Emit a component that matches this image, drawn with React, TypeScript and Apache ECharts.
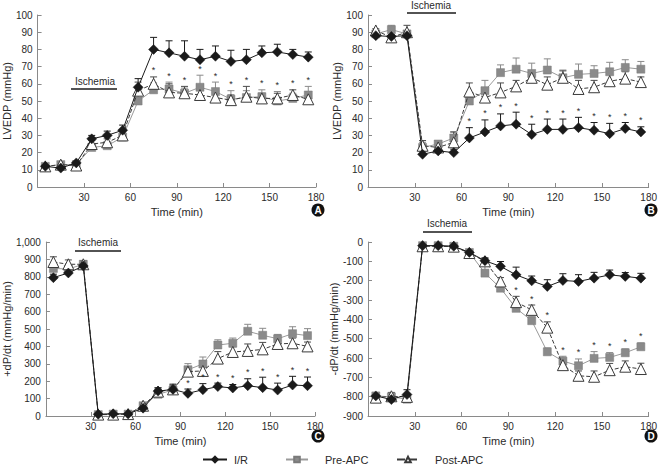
import { useEffect, useRef } from "react";
import * as echarts from "echarts";

const FONT = "'Liberation Sans', Arial, sans-serif";

const times = [5, 15, 25, 35, 45, 55, 65, 75, 85, 95, 105, 115, 125, 135, 145, 155, 165, 175];
const seriesNames = ["I/R", "Pre-APC", "Post-APC"];
const xTicks = [0, 30, 60, 90, 120, 150, 180];

// Panel A: LVEDP
const aIR = [12, 11, 14, 28, 30, 33, 58, 80, 78, 76, 74, 76, 73, 74, 78, 78.5, 77, 75.5];
const aIRErr = [1, 1, 1, 2, 2.5, 3, 5, 7, 7, 9, 6, 6, 6.5, 6, 4, 4.5, 3, 3];
const aPre = [12, 13, 13, 23, 24, 29, 50, 56.5, 57, 54.5, 58, 55.5, 51, 52, 52.5, 50, 51.5, 53.5];
const aPreErr = [1, 1, 1, 2, 2, 2, 5, 4, 4, 3, 7, 5.5, 5, 4, 4, 5.5, 3, 5];
const aPost = [12, 13, 12.5, 25, 26, 30, 56, 60, 55, 54.5, 53.5, 52, 50.5, 52.5, 51.5, 51.5, 53.5, 51];
const aPostErr = [1, 1, 1, 2, 2, 2, 5, 4, 5, 4, 3, 3, 3, 6, 3, 3, 3, 3];
const aSig = [0, 0, 0, 0, 0, 0, 0, 1, 1, 1, 1, 1, 1, 1, 1, 1, 1, 1];

// Panel B: LVEDP
const bIR = [88, 87.5, 88, 19, 21, 20, 28.5, 32, 35.5, 36.5, 30.5, 33.5, 33.5, 34.5, 33, 31, 34, 32];
const bIRErr = [1, 1, 1, 2, 2, 2, 6, 7, 7, 7, 6, 6, 6, 6, 4.5, 6, 3.5, 3];
const bPre = [89, 91.5, 89, 23, 25, 28.5, 50, 56, 66.5, 68.5, 66, 68, 63.5, 65.5, 66, 67, 69.5, 68.5];
const bPreErr = [1, 2.5, 2, 3, 2, 3.5, 3, 6, 4.5, 6.5, 6, 6.5, 4.5, 6, 4.5, 5.5, 4.5, 4.5];
const bPost = [91, 87, 90, 24, 23, 26, 55.5, 52, 55, 58.5, 63.5, 59.5, 63.5, 57, 58, 61.5, 63, 61];
const bPostErr = [1, 1, 4, 3, 2, 6, 5, 4, 5.5, 3.5, 3, 4.5, 4, 5, 4, 4, 4, 3];
const bSig = [0, 0, 0, 0, 0, 0, 1, 1, 1, 1, 1, 1, 1, 1, 1, 1, 1, 1];

// Panel C: +dP/dt
const cIR = [795, 822, 862, 10, 13, 12, 45, 143, 153, 130, 151, 169, 161, 174, 163, 149, 178, 174];
const cIRErr = [20, 15, 20, 5, 5, 5, 10, 20, 30, 25, 35, 20, 20, 40, 60, 40, 50, 50];
const cPre = [848, 845, 872, 8, 11, 11, 59, 125, 149, 266, 299, 408, 418, 487, 464, 444, 473, 462];
const cPreErr = [15, 15, 20, 5, 5, 5, 10, 25, 25, 35, 40, 30, 30, 40, 40, 25, 40, 40];
const cPost = [885, 872, 872, 8, 8, 11, 59, 140, 153, 255, 259, 330, 368, 374, 383, 414, 418, 400];
const cPostErr = [30, 25, 20, 5, 5, 5, 10, 20, 25, 20, 25, 40, 30, 40, 40, 20, 30, 25];
const cSig = [0, 0, 0, 0, 0, 0, 0, 0, 0, 1, 1, 1, 1, 1, 1, 1, 1, 1];

// Panel D: -dP/dt
const dIR = [-796, -815, -789, -19, -19, -22, -54, -97, -126, -170, -201, -230, -199, -204, -187, -170, -178, -187];
const dIRErr = [15, 15, 25, 5, 5, 5, 5, 15, 25, 40, 25, 35, 35, 35, 30, 25, 20, 25];
const dPre = [-796, -801, -813, -19, -19, -22, -54, -161, -239, -343, -407, -568, -616, -640, -602, -597, -573, -542];
const dPreErr = [10, 10, 10, 5, 5, 5, 5, 50, 20, 20, 20, 20, 25, 35, 35, 25, 20, 20];
const dPost = [-805, -798, -801, -22, -22, -24, -57, -100, -204, -311, -351, -443, -637, -692, -697, -663, -645, -657];
const dPostErr = [10, 20, 10, 5, 5, 5, 5, 15, 20, 30, 25, 30, 20, 25, 30, 35, 30, 30];
const dSig = [0, 0, 0, 0, 0, 0, 0, 0, 0, 1, 1, 1, 1, 1, 1, 1, 1, 1];

const panels = [
  { letter: "A", yName: "LVEDP (mmHg)", yMin: 0, yMax: 100, yStep: 10, vals: [aIR, aPre, aPost], errs: [aIRErr, aPreErr, aPostErr], sig: aSig, sigOn: [1, 2] },
  { letter: "B", yName: "LVEDP (mmHg)", yMin: 0, yMax: 100, yStep: 10, vals: [bIR, bPre, bPost], errs: [bIRErr, bPreErr, bPostErr], sig: bSig, sigOn: [0] },
  { letter: "C", yName: "+dP/dt (mmHg/min)", yMin: 0, yMax: 1000, yStep: 100, vals: [cIR, cPre, cPost], errs: [cIRErr, cPreErr, cPostErr], sig: cSig, sigOn: [0] },
  { letter: "D", yName: "-dP/dt (mmHg/min)", yMin: -900, yMax: 0, yStep: 100, vals: [dIR, dPre, dPost], errs: [dIRErr, dPreErr, dPostErr], sig: dSig, sigOn: [1, 2] },
];

// layout (pixels)
const grids = [
  { left: 37, top: 15, width: 279, height: 172 },
  { left: 368, top: 15, width: 281, height: 172 },
  { left: 35, top: 242, width: 280, height: 174 },
  { left: 368, top: 242, width: 281, height: 174 },
];
const ischemia = [
  { tx: 95, ty: 81, x1: 71, x2: 117, y: 89 },
  { tx: 431, ty: 5, x1: 407, x2: 456, y: 13 },
  { tx: 98, ty: 242, x1: 75, x2: 121, y: 251 },
  { tx: 447, ty: 223, x1: 423, x2: 472, y: 232 },
];
const badges = [
  { x: 318, y: 210 },
  { x: 651, y: 210 },
  { x: 318, y: 436 },
  { x: 651, y: 436 },
];

const AXIS = "#8a8a8a";
const TXT = "#2a2a2a";
const styles = [
  { symbol: "diamond", size: 10, line: "#1a1a1a", fill: "#1a1a1a", border: "#1a1a1a", type: "solid", err: "#1a1a1a", z: 5 },
  { symbol: "rect", size: 8, line: "#9a9a9a", fill: "#8a8a8a", border: "#7a7a7a", type: "solid", err: "#8a8a8a", z: 3 },
  { symbol: "triangle", size: 11, line: "#3a3a3a", fill: "#ffffff", border: "#3a3a3a", type: "dashed", err: "#4a4a4a", z: 4 },
];

function buildOption() {
  const series: any[] = [];
  panels.forEach((p, gi) => {
    p.vals.forEach((vals, si) => {
      const st = styles[si];
      const errs = p.errs[si];
      series.push({
        type: "custom",
        xAxisIndex: gi,
        yAxisIndex: gi,
        z: 1,
        silent: true,
        data: times.map((t, k) => [t, vals[k], vals[k] + errs[k]]),
        encode: { x: 0, y: [1, 2] },
        renderItem: (_params: any, api: any) => {
          const p0 = api.coord([api.value(0), api.value(1)]);
          const p1 = api.coord([api.value(0), api.value(2)]);
          return {
            type: "group",
            children: [
              { type: "line", shape: { x1: p0[0], y1: p0[1], x2: p1[0], y2: p1[1] }, style: { stroke: st.err, lineWidth: 1 } },
              { type: "line", shape: { x1: p1[0] - 3.5, y1: p1[1], x2: p1[0] + 3.5, y2: p1[1] }, style: { stroke: st.err, lineWidth: 1 } },
            ],
          };
        },
      });
      series.push({
        type: "line",
        name: seriesNames[si],
        xAxisIndex: gi,
        yAxisIndex: gi,
        z: st.z,
        data: times.map((t, k) => [t, vals[k]]),
        symbol: st.symbol,
        symbolSize: st.size,
        showAllSymbol: true,
        lineStyle: { color: st.line, width: 1, type: st.type },
        itemStyle: { color: st.fill, borderColor: st.border, borderWidth: si === 2 ? 1 : 0.5 },
      });
    });
    // significance asterisks
    const sigData: number[][] = [];
    times.forEach((t, k) => {
      if (p.sig[k]) {
        const top = Math.max(...p.sigOn.map((si) => p.vals[si][k] + p.errs[si][k]));
        sigData.push([t, top]);
      }
    });
    series.push({
      type: "custom",
      xAxisIndex: gi,
      yAxisIndex: gi,
      z: 6,
      silent: true,
      data: sigData,
      renderItem: (_params: any, api: any) => {
        const c = api.coord([api.value(0), api.value(1)]);
        return {
          type: "text",
          x: c[0],
          y: c[1] - 2,
          style: { text: "*", align: "center", verticalAlign: "bottom", fontSize: 9, fontFamily: FONT, fill: TXT },
        };
      },
    });
  });

  const graphic: any[] = [];
  ischemia.forEach((s) => {
    graphic.push({ type: "text", x: s.tx, y: s.ty, style: { text: "Ischemia", align: "center", verticalAlign: "middle", fontSize: 10, fontFamily: FONT, fill: TXT } });
    graphic.push({ type: "line", shape: { x1: s.x1, y1: s.y, x2: s.x2, y2: s.y }, style: { stroke: "#1a1a1a", lineWidth: 1.6 } });
  });
  badges.forEach((b, i) => {
    graphic.push({ type: "circle", shape: { cx: b.x, cy: b.y, r: 6.5 }, style: { fill: "#111" } });
    graphic.push({ type: "text", x: b.x, y: b.y + 0.5, style: { text: panels[i].letter, align: "center", verticalAlign: "middle", fontSize: 10, fontWeight: "bold", fontFamily: FONT, fill: "#fff" } });
  });

  const legendBase = {
    top: 449,
    itemHeight: 7,
    itemGap: 0,
    selectedMode: false,
  };
  const legendText = (pad: number) => ({ fontSize: 11, fontFamily: FONT, color: TXT, padding: [0, 0, 0, pad] });

  return {
    animation: false,
    backgroundColor: "#ffffff",
    grid: grids.map((g) => ({ ...g, containLabel: false })),
    xAxis: grids.map((_, i) => ({
      type: "value",
      gridIndex: i,
      min: xTicks[0],
      max: xTicks[xTicks.length - 1],
      interval: 30,
      name: "Time (min)",
      nameLocation: "middle",
      nameGap: 19,
      nameTextStyle: { fontSize: 11, fontFamily: FONT, color: TXT },
      axisLine: { show: true, onZero: false, lineStyle: { color: AXIS } },
      axisTick: { show: true, inside: true, length: 4, lineStyle: { color: AXIS } },
      axisLabel: { fontSize: 10, fontFamily: FONT, color: TXT, margin: 5, formatter: (v: number) => (v === 0 ? "" : String(v)) },
      splitLine: { show: false },
    })),
    yAxis: panels.map((p, i) => ({
      type: "value",
      gridIndex: i,
      min: p.yMin,
      max: p.yMax,
      interval: p.yStep,
      name: p.yName,
      nameLocation: "middle",
      nameGap: 24,
      nameRotate: 90,
      nameTextStyle: { fontSize: 11, fontFamily: FONT, color: TXT },
      axisLine: { show: true, onZero: false, lineStyle: { color: AXIS } },
      axisTick: { show: true, inside: true, length: 4, lineStyle: { color: AXIS } },
      axisLabel: { fontSize: 10, fontFamily: FONT, color: TXT, margin: 5, formatter: (v: number) => v.toLocaleString("en-US") },
      splitLine: { show: false },
    })),
    legend: [
      { ...legendBase, left: 197, itemWidth: 24, textStyle: legendText(2), data: ["I/R"] },
      { ...legendBase, left: 280, itemWidth: 22, textStyle: legendText(12), data: ["Pre-APC"] },
      { ...legendBase, left: 391, itemWidth: 22, textStyle: legendText(11), data: ["Post-APC"] },
    ],
    graphic,
    series,
  };
}

export default function App() {
  const ref = useRef<HTMLDivElement>(null);
  useEffect(() => {
    if (!ref.current) return;
    const chart = echarts.init(ref.current, undefined, { renderer: "svg" });
    chart.setOption(buildOption() as any);
    return () => chart.dispose();
  }, []);
  return <div ref={ref} style={{ position: "fixed", left: 0, top: 0, width: 660, height: 466, background: "#fff" }} />;
}
